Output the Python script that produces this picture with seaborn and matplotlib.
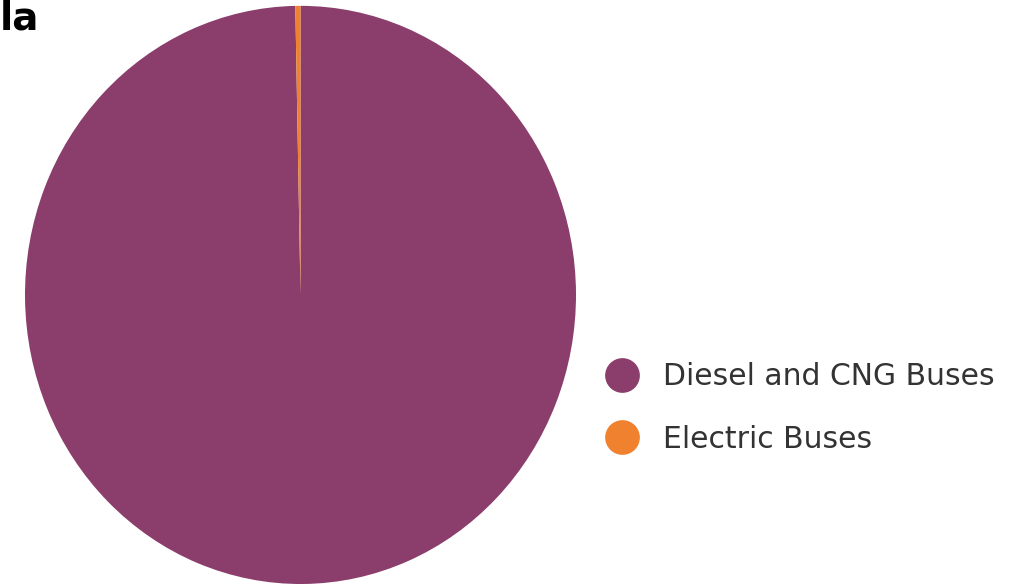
import seaborn as sns
import matplotlib.pyplot as plt
from matplotlib.lines import Line2D

# datos
categories = ["Diesel and CNG Buses", "Electric Buses"]
shares = [99.7, 0.3]
colors = ["#8B3D6B", "#F0812F"]

sns.set_theme(style="white")
plt.rcParams['font.family'] = ['DejaVu Sans']

fig = plt.figure(figsize=(10.30, 5.84), dpi=100)
ax = fig.add_axes([25 / 1030, 0.0, 551 / 1030, 0.99])

ax.pie(shares, colors=colors, startangle=90, counterclock=False,
       wedgeprops=dict(linewidth=0))
ax.set_aspect('auto')
ax.set_xlim(-1, 1)
ax.set_ylim(-1, 1)

# leyenda a la derecha
handles = [Line2D([0], [0], marker='o', linestyle='', markersize=25,
                  markerfacecolor=c, markeredgewidth=0) for c in colors]
fig.legend(handles, categories, loc='center left',
           bbox_to_anchor=(573 / 1030, 1 - 408 / 584), frameon=False,
           fontsize=21.5, labelcolor='#333333', handlelength=1.5,
           handletextpad=0.62, labelspacing=1.13)

# etiqueta del panel
fig.text(0.0, 1.0, "la", fontsize=28, fontweight='bold', color='black',
         ha='left', va='top')

fig.savefig("out.png", dpi=100)
